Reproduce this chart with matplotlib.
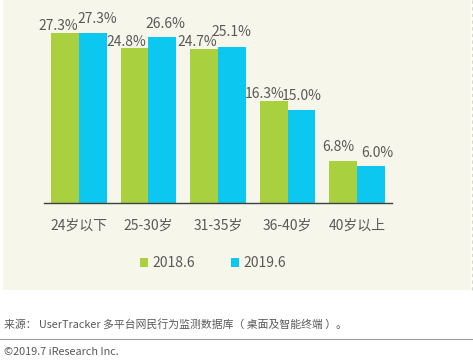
import numpy as np
import matplotlib
matplotlib.use("Agg")
import matplotlib.pyplot as plt
from matplotlib.patches import Rectangle
from matplotlib.lines import Line2D

plt.rcParams['font.family'] = ['Noto Sans CJK SC', 'DejaVu Sans']

categories = ['24岁以下', '25-30岁', '31-35岁', '36-40岁', '40岁以上']
series_names = ['2018.6', '2019.6']
values_2018 = [27.3, 24.8, 24.7, 16.3, 6.8]
values_2019 = [27.3, 26.6, 25.1, 15.0, 6.0]
source_text = '来源： UserTracker 多平台网民行为监测数据库（ 桌面及智能终端 ）。'
copyright_text = '©2019.7 iResearch Inc.'

green = '#a9d03e'
blue = '#0cc8f0'
text_gray = '#595959'
panel = '#f6f7ea'

# label nudges in pixels (dx from bar centre, gap above bar top) - the
# original staggers overlapping labels
nudge_2018 = [(-6.5, 3), (-8, 2), (-7, 3), (-9, 3), (-5, 10)]
nudge_2019 = [(5, 10), (3.5, 9), (-1, 11), (0.5, 10), (6, 9)]

W, H = 473, 363
fig = plt.figure(figsize=(W / 100, H / 100), dpi=100)
fig.patch.set_facecolor('white')

# cream panel behind the chart (zorder below the axes)
fig.patches.append(Rectangle((3 / W, 1 - 290 / H), 468 / W, 290 / H,
                             transform=fig.transFigure, facecolor=panel,
                             edgecolor='none', zorder=-5))
fig.add_artist(Line2D([472 / W, 472 / W], [1 - 290 / H, 1], transform=fig.transFigure,
                      color='#d8d8c8', lw=0.8, ls=(0, (3, 3)), zorder=-4))

ax_top, ax_bottom = 15, 203
ax = fig.add_axes([44 / W, 1 - ax_bottom / H, 348 / W, (ax_bottom - ax_top) / H])
ax.set_facecolor('none')
ax.set_zorder(2)

x = np.arange(len(categories))
w = 0.4
b1 = ax.bar(x - w / 2, values_2018, w, color=green, label=series_names[0])
b2 = ax.bar(x + w / 2, values_2019, w, color=blue, label=series_names[1])

for bars, vals, nudges in [(b1, values_2018, nudge_2018), (b2, values_2019, nudge_2019)]:
    for r, v, (dx, gap) in zip(bars, vals, nudges):
        ax.annotate(f'{v:.1f}%', (r.get_x() + r.get_width() / 2, v),
                    xytext=(dx * 0.72, gap * 0.72), textcoords='offset points',
                    ha='center', va='baseline', fontsize=10, color=text_gray)

ax.set_xlim(-0.5, 4.5)
ax.set_ylim(0, (ax_bottom - ax_top) / 6.23)
ax.set_yticks([])
for s in ['top', 'right', 'left']:
    ax.spines[s].set_visible(False)
ax.spines['bottom'].set_color('#404040')
ax.spines['bottom'].set_linewidth(1.0)
ax.set_xticks(x)
ax.set_xticklabels(categories, fontsize=10, color=text_gray)
ax.tick_params(axis='x', length=0, pad=11)

fig.legend(handles=[b1, b2], loc='center', bbox_to_anchor=(213 / W, 1 - 263 / H),
           ncol=2, frameon=False, fontsize=10, labelcolor=text_gray,
           handlelength=0.6, handleheight=0.6, handletextpad=0.3,
           columnspacing=2.6)

fig.text(4 / W, 1 - 324 / H, source_text, fontsize=7.8, color=text_gray,
         ha='left', va='center')
fig.add_artist(Line2D([0, 1], [1 - 339 / H, 1 - 339 / H], transform=fig.transFigure,
                      color='#a0a0a0', lw=0.8))
fig.text(4 / W, 1 - 352 / H, copyright_text, fontsize=7.8, color=text_gray,
         ha='left', va='center')

fig.savefig('out.png', dpi=100)
